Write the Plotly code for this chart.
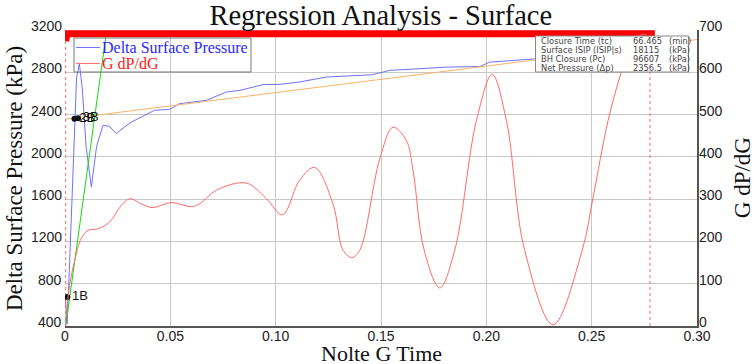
import plotly.graph_objects as go

# ---------------- data ----------------
blue_g = [0.0000, 0.0010, 0.0022, 0.0040, 0.0055, 0.0068, 0.0082, 0.0100, 0.0125, 0.0150,
          0.0180, 0.0210, 0.0244, 0.0280, 0.0315, 0.0425, 0.0497, 0.0544, 0.0670, 0.0766,
          0.0830, 0.0940, 0.1020, 0.1110, 0.1240, 0.1460, 0.1540, 0.1650, 0.1810, 0.1970,
          0.2016, 0.2238, 0.2500, 0.2780]
blue_p = [700, 420, 1000, 2000, 2750, 2880, 2650, 2100, 1714, 2100,
          2298, 2290, 2219, 2280, 2329, 2440, 2450, 2503, 2534, 2613,
          2629, 2683, 2686, 2707, 2755, 2777, 2818, 2830, 2849, 2855,
          2896, 2928, 2950, 2960]

red_g = [0.0000, 0.0022, 0.0046, 0.0077, 0.0109, 0.0156, 0.0212, 0.0267, 0.0307, 0.0362,
         0.0415, 0.0505, 0.0600, 0.0639, 0.0718, 0.0861, 0.0956, 0.1032, 0.1114, 0.1185,
         0.1272, 0.1320, 0.1362, 0.1399, 0.1494, 0.1557, 0.1620, 0.1652, 0.1705, 0.1779,
         0.1850, 0.1953, 0.2028, 0.2095, 0.2182, 0.2317, 0.2455, 0.2507, 0.2578, 0.2642,
         0.2700, 0.2760]
red_v = [0, 96, 155, 207, 226, 230, 246, 285, 301, 289,
         280, 292, 282, 289, 321, 338, 301, 263, 345, 375,
         289, 179, 162, 179, 395, 470, 439, 368, 179, 90,
         179, 486, 595, 486, 179, 3, 179, 305, 486, 602,
         680, 690]

trend_g = [0.0, 0.30]
trend_p = [2356.5, 3110]

tangent_g = [0.0, 0.0205]
tangent_p = [350, 3300]

pts_g = [0.0011, 0.0045, 0.0062]
pts_p = [674, 2360, 2366]
pts_lbl = ["1B", "2B", "3B"]

bar_g = [0.0003, 0.0010, 0.2800]
bar_p = [3095, 3165, 3165]

closure_lines_g = [0.0003, 0.2777]

x_ticks = [0, 0.05, 0.10, 0.15, 0.20, 0.25, 0.30]
x_tick_text = ["0", "0.05", "0.10", "0.15", "0.20", "0.25", "0.30"]
y_ticks = [400, 800, 1200, 1600, 2000, 2400, 2800, 3200]
y2_ticks = [0, 100, 200, 300, 400, 500, 600, 700]

legend_names = ["Delta Surface Pressure", "G dP/dG"]
legend_colors = ["#7070ff", "#ff6a6a"]
legend_text_colors = ["#2a2aff", "#ff2020"]

info_labels = ["Closure Time (tc)", "Surface ISIP (ISIP|s)", "BH Closure (Pc)", "Net Pressure (\u0394p)"]
info_values = ["66.465", "18115", "96607", "2356.5"]
info_units = ["(min)", "(kPa)", "(kPa)", "(kPa)"]

# ---------------- figure ----------------
serif = "Liberation Serif, Times New Roman, serif"
sans = "Liberation Sans, Arial, sans-serif"

fig = go.Figure()

fig.add_trace(go.Scatter(x=blue_g, y=blue_p, mode="lines", showlegend=False,
                         line=dict(color=legend_colors[0], width=1), name=legend_names[0]))
fig.add_trace(go.Scatter(x=red_g, y=red_v, mode="lines", yaxis="y2", showlegend=False,
                         line=dict(color=legend_colors[1], width=1, shape="spline", smoothing=1.0),
                         name=legend_names[1]))
fig.add_trace(go.Scatter(x=trend_g, y=trend_p, mode="lines", showlegend=False,
                         line=dict(color="#f5b56a", width=1)))
fig.add_trace(go.Scatter(x=tangent_g, y=tangent_p, mode="lines", showlegend=False,
                         line=dict(color="#10dd10", width=1)))
fig.add_trace(go.Scatter(x=bar_g, y=bar_p, mode="lines", showlegend=False,
                         line=dict(color="#ff0000", width=7)))
for g in closure_lines_g:
    fig.add_trace(go.Scatter(x=[g, g], y=[400, 3120], mode="lines", showlegend=False,
                             line=dict(color="#ff6a6a", width=1, dash="dot")))
fig.add_trace(go.Scatter(x=pts_g, y=pts_p, mode="markers+text", showlegend=False,
                         text=pts_lbl, textposition="middle right",
                         textfont=dict(family=sans, size=13, color="#111"),
                         marker=dict(color="#111", size=6)))

# manual legend (transparent box, as in the reference)
lx0, lx1, ly0, ly1 = 0.0142, 0.2943, 0.8581, 0.9730
fig.add_shape(type="rect", xref="paper", yref="paper", x0=lx0, x1=lx1, y0=ly0, y1=ly1,
              fillcolor="rgba(0,0,0,0)", line=dict(color="#777", width=1), layer="above")
leg_rows = [0.9410, 0.8870]
for i in range(2):
    fig.add_shape(type="line", xref="paper", yref="paper", x0=0.0174, x1=0.0554,
                  y0=leg_rows[i], y1=leg_rows[i], line=dict(color=legend_colors[i], width=1), layer="above")
    fig.add_annotation(x=0.0560, y=leg_rows[i], xref="paper", yref="paper", text=legend_names[i],
                       showarrow=False, xanchor="left", yanchor="middle",
                       font=dict(family=serif, size=16, color=legend_text_colors[i]))

# info box
bx0, bx1, by0, by1 = 0.7445, 0.9866, 0.8581, 0.9797
fig.add_shape(type="rect", xref="paper", yref="paper", x0=bx0, x1=bx1, y0=by0, y1=by1,
              fillcolor="white", line=dict(color="#888", width=1), layer="above")
row_h = (by1 - by0) / 4
for i in range(4):
    yy = by1 - row_h * (i + 0.5)
    for txt, xx in ((info_labels[i], 0.7500), (info_values[i], 0.8950), (info_units[i], 0.9530)):
        fig.add_annotation(x=xx, y=yy, xref="paper", yref="paper", text=txt, showarrow=False,
                           xanchor="left", yanchor="middle",
                           font=dict(family="DejaVu Sans, Verdana, sans-serif", size=8.3, color="#444"))

# y tick labels (sit slightly above their gridlines, as in the reference)
tick_font = dict(family=sans, size=14, color="#222")
for v in y_ticks:
    fig.add_annotation(x=0, y=v, xref="paper", yref="y", text=str(v), showarrow=False,
                       xanchor="right", yanchor="middle", xshift=-1, yshift=4, font=tick_font)
for v in y2_ticks:
    fig.add_annotation(x=1, y=v, xref="paper", yref="y2", text=str(v), showarrow=False,
                       xanchor="left", yanchor="middle", xshift=0, yshift=4, font=tick_font)

# axis titles
fig.add_annotation(x=-0.0807, y=0.5, xref="paper", yref="paper", text="Delta Surface Pressure (kPa)",
                   textangle=-90, showarrow=False, xanchor="center", yanchor="middle",
                   font=dict(family=serif, size=23, color="#111"))
fig.add_annotation(x=1.0715, y=0.5, xref="paper", yref="paper", text="G dP/dG",
                   textangle=-90, showarrow=False, xanchor="center", yanchor="middle",
                   font=dict(family=serif, size=23, color="#111"))
fig.add_annotation(x=0.5, y=-0.0915, xref="paper", yref="paper", text="Nolte G Time",
                   showarrow=False, xanchor="center", yanchor="middle",
                   font=dict(family=serif, size=22, color="#111"))

fig.update_layout(
    width=754, height=364,
    margin=dict(l=65, r=57, t=30, b=38),
    paper_bgcolor="white", plot_bgcolor="white",
    showlegend=False,
    title=dict(text="Regression Analysis - Surface", x=0.505, xanchor="center", y=0.985, yanchor="top",
               font=dict(family=serif, size=28.5, color="#111"), pad=dict(t=0, b=0)),
    xaxis=dict(range=[0, 0.30], tickvals=x_ticks, ticktext=x_tick_text, automargin=False,
               showgrid=True, gridcolor="#c8c8c8", gridwidth=1, zeroline=False,
               showline=True, linecolor="#555", linewidth=1.5, ticks="", ticklabelstandoff=-4,
               tickfont=tick_font),
    yaxis=dict(range=[400, 3200], tickvals=y_ticks, showgrid=True, gridcolor="#c8c8c8", gridwidth=1,
               zeroline=False, showline=False, ticks="", automargin=False, showticklabels=False),
    yaxis2=dict(range=[0, 700], tickvals=y2_ticks, overlaying="y", side="right", showgrid=False,
                zeroline=False, showline=True, linecolor="#555", linewidth=1.5, ticks="", automargin=False,
                showticklabels=False),
)

fig.write_html("out.html", config={"displayModeBar": False},
               post_script="document.body.style.margin='0';document.body.style.padding='0';"
                           "document.body.style.overflow='hidden';")
